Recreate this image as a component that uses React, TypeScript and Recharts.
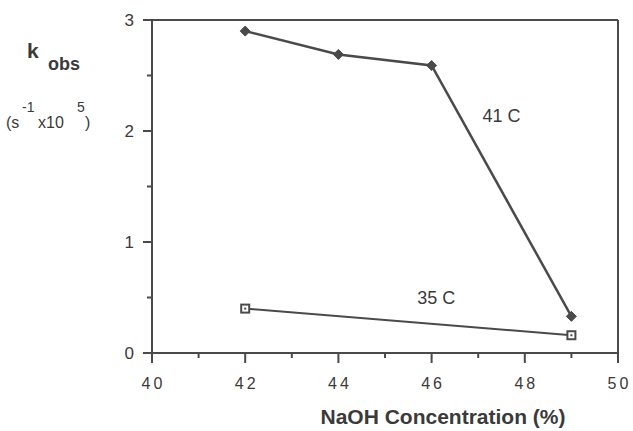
import React from "react";
import { LineChart, Line, XAxis, YAxis, ReferenceLine, ReferenceDot } from "recharts";

const xTicks = [40, 41, 42, 43, 44, 45, 46, 47, 48, 49, 50];
const yTicks = [0, 0.5, 1, 1.5, 2, 2.5, 3];
const conc41 = [42, 44, 46, 49];
const k41 = [2.9, 2.69, 2.59, 0.33];
const conc35 = [42, 49];
const k35 = [0.4, 0.16];
const series41Label = "41 C";
const series35Label = "35 C";

const data41 = conc41.map((c, i) => ({ c, k: k41[i] }));
const data35 = conc35.map((c, i) => ({ c, k: k35[i] }));

const INK = "#4a4a4a";
const TXT = "#3a3a3a";
const FONT = "Liberation Sans, Arial, Helvetica, sans-serif";

const XTick = (props: any) => {
  const { x, y, payload } = props;
  const v = payload.value;
  const major = v % 2 === 0;
  return (
    <g>
      <line x1={x} x2={x} y1={y} y2={y + (major ? 10 : 5)} stroke={INK} strokeWidth={2} />
      {major && (
        <text x={x + 1.5} y={y + 36} textAnchor="middle" fontSize={16} letterSpacing={3} fill={TXT} fontFamily={FONT}>
          {v}
        </text>
      )}
    </g>
  );
};

const YTick = (props: any) => {
  const { x, y, payload } = props;
  const v = payload.value;
  const major = Number.isInteger(v);
  return (
    <g>
      <line x1={x - (major ? 9 : 5)} x2={x} y1={y} y2={y} stroke={INK} strokeWidth={2} />
      {major && (
        <text x={x - 18} y={y} dy="0.36em" textAnchor="end" fontSize={17} fill={TXT} fontFamily={FONT}>
          {v}
        </text>
      )}
    </g>
  );
};

const Diamond = (props: any) => {
  const { cx, cy } = props;
  if (cx == null || cy == null) return null;
  const r = 5;
  return <polygon points={`${cx},${cy - r} ${cx + r},${cy} ${cx},${cy + r} ${cx - r},${cy}`} fill={INK} stroke={INK} strokeWidth={1} />;
};

const Square = (props: any) => {
  const { cx, cy } = props;
  if (cx == null || cy == null) return null;
  return (
    <g>
      <rect x={cx - 4} y={cy - 4} width={8} height={8} fill="#fff" stroke={INK} strokeWidth={2} />
      <rect x={cx - 1} y={cy - 1} width={2} height={2} fill={INK} />
    </g>
  );
};

const textLabel = (txt: string) => (p: any) => {
  const vb = p.viewBox || {};
  return (
    <text x={vb.cx ?? vb.x} y={vb.cy ?? vb.y} dy="0.36em" textAnchor="middle" fontSize={18} fill={TXT} fontFamily={FONT}>
      {txt}
    </text>
  );
};

export default function App() {
  return (
    <div style={{ position: "absolute", left: 0, top: 0, width: 633, height: 431, background: "#fff", fontFamily: FONT }}>
      <LineChart width={633} height={431} margin={{ top: 20, right: 15, bottom: 48, left: 112 }}>
        <XAxis
          type="number"
          dataKey="c"
          domain={[40, 50]}
          ticks={xTicks}
          interval={0}
          height={30}
          tickSize={0}
          tickMargin={0}
          tick={<XTick />}
          axisLine={{ stroke: INK, strokeWidth: 2 }}
          allowDataOverflow
        />
        <YAxis
          type="number"
          domain={[0, 3]}
          ticks={yTicks}
          interval={0}
          width={40}
          tickSize={0}
          tickMargin={0}
          tick={<YTick />}
          axisLine={{ stroke: INK, strokeWidth: 2 }}
          allowDataOverflow
        />
        <ReferenceLine y={3} stroke={INK} strokeWidth={2} />
        <ReferenceLine x={50} stroke={INK} strokeWidth={2} />
        <Line data={data41} dataKey="k" stroke={INK} strokeWidth={2.5} dot={<Diamond />} activeDot={false} isAnimationActive={false} />
        <Line data={data35} dataKey="k" stroke={INK} strokeWidth={2} dot={<Square />} activeDot={false} isAnimationActive={false} />
        <ReferenceDot x={47.5} y={2.14} r={0} fill="none" stroke="none" label={textLabel(series41Label)} />
        <ReferenceDot x={46.1} y={0.5} r={0} fill="none" stroke="none" label={textLabel(series35Label)} />
      </LineChart>
      <svg width={633} height={431} style={{ position: "absolute", left: 0, top: 0, pointerEvents: "none" }} fontFamily={FONT} fill={TXT}>
        <text x={27} y={58} fontSize={21} fontWeight="bold">k</text>
        <text x={48} y={70} fontSize={18} fontWeight="bold">obs</text>
        <text x={6} y={128} fontSize={16}>(s</text>
        <text x={22} y={112} fontSize={14}>-1</text>
        <text x={38} y={128} fontSize={16}>x10</text>
        <text x={77} y={112} fontSize={14}>5</text>
        <text x={85} y={128} fontSize={16}>)</text>
        <text x={443} y={424} fontSize={21} fontWeight="bold" textAnchor="middle">NaOH Concentration (%)</text>
      </svg>
    </div>
  );
}
